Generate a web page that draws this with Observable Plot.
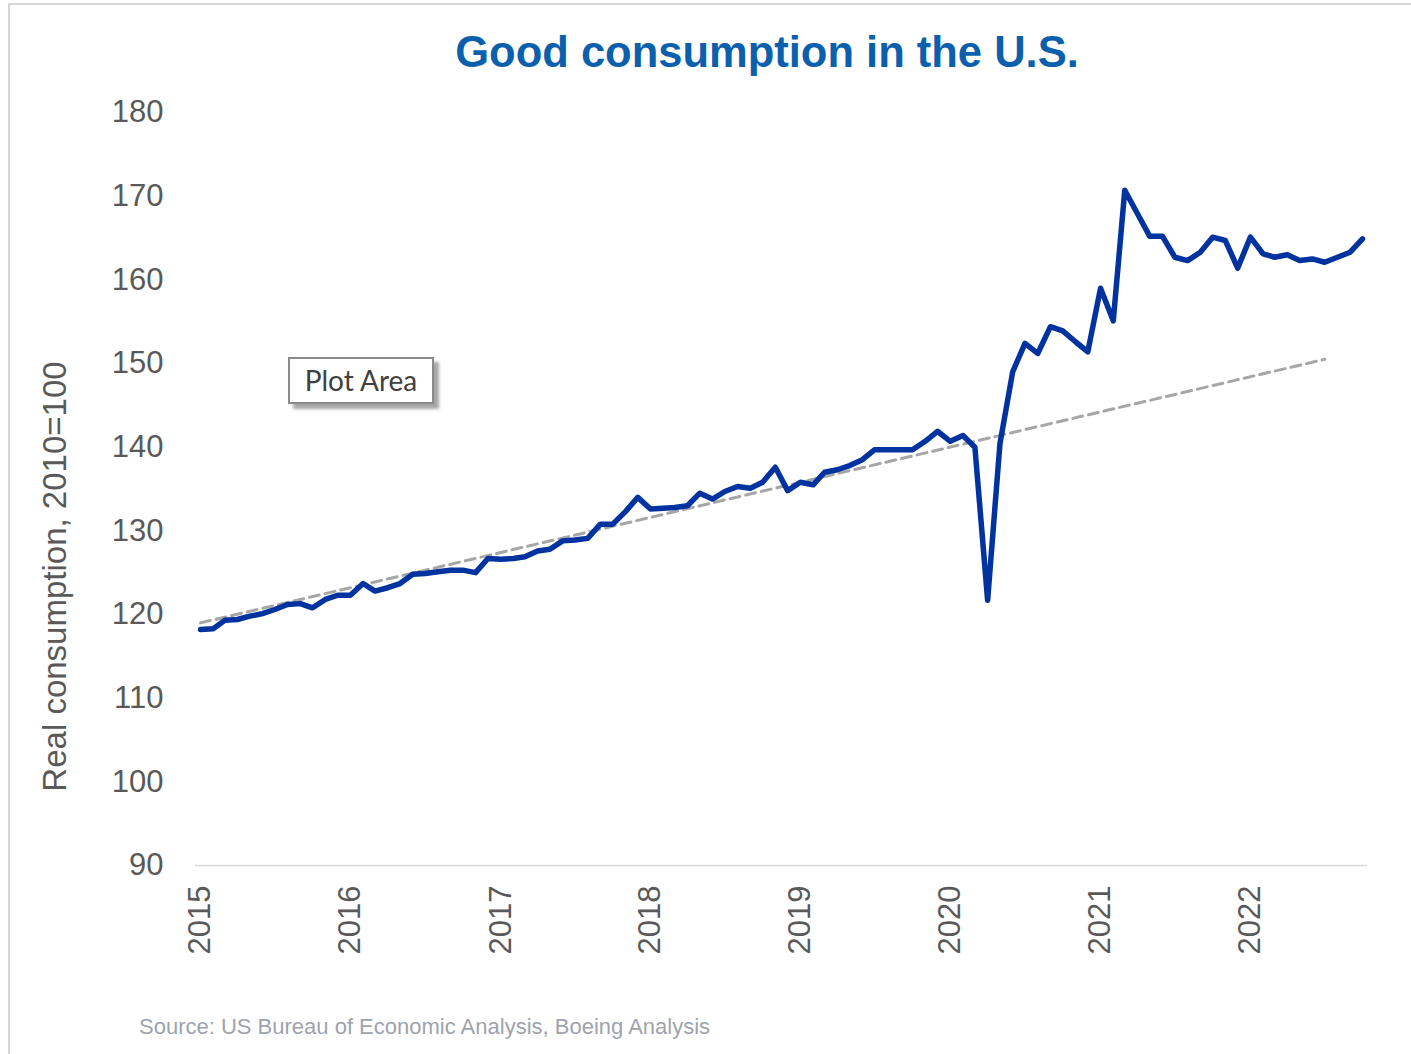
<!DOCTYPE html>
<html>
<head>
<meta charset="utf-8">
<script src="https://cdn.jsdelivr.net/npm/d3@7"></script>
<script src="https://cdn.jsdelivr.net/npm/@observablehq/plot@0.6"></script>
<style>
  body { margin: 0; background: #fff; }
  #wrap { position: relative; width: 1411px; height: 1054px; overflow: hidden; font-family: "Liberation Sans", Arial, sans-serif; background: #fff; }
  #frame { position: absolute; left: 8px; top: 3px; width: 1500px; height: 1200px; border-top: 2px solid #d6d6d6; border-left: 2px solid #d6d6d6; }
  #title { position: absolute; left: 767px; top: 31px; transform: translateX(-50%); white-space: nowrap; font-size: 43.5px; line-height: 43.5px; font-weight: bold; color: #0b60ae; }
  #ylabel { position: absolute; left: -246px; top: 560px; width: 600px; height: 33px; line-height: 33px; text-align: center; font-size: 33px; color: #595959; transform: rotate(-90deg); white-space: nowrap; }
  #chart { position: absolute; left: 0; top: 90px; }
  #plotarea { position: absolute; left: 288px; top: 357px; width: 142px; height: 43px; border: 2px solid #8a8a8a; background: #fff; box-shadow: 5px 5px 3px rgba(0,0,0,0.35); font-family: Lato, "Open Sans", sans-serif; font-size: 28px; line-height: 43px; text-align: center; color: #404040; }
  #source { position: absolute; left: 139px; top: 1016px; font-size: 22px; line-height: 22px; color: #9ea3ab; white-space: nowrap; }
</style>
</head>
<body>
<div id="wrap">
  <div id="frame"></div>
  <div id="title">Good consumption in the U.S.</div>
  <div id="ylabel">Real consumption, 2010=100</div>
  <div id="chart"></div>
  <div id="plotarea">Plot Area</div>
  <div id="source">Source: US Bureau of Economic Analysis, Boeing Analysis</div>
</div>
<script>
// Monthly real goods consumption index (2010=100), Jan 2015 – Oct 2022
const firstMonth = "2015-01";
const consumption = [
  118.2, 118.3, 119.3, 119.4, 119.8, 120.1, 120.6, 121.2, 121.3, 120.8, 121.8, 122.3,
  122.3, 123.7, 122.8, 123.2, 123.7, 124.8, 124.9, 125.1, 125.3, 125.3, 125.0, 126.7,
  126.6, 126.7, 126.9, 127.6, 127.8, 128.8, 128.9, 129.1, 130.8, 130.8, 132.3, 134.0,
  132.6, 132.7, 132.8, 133.0, 134.5, 133.8, 134.7, 135.3, 135.1, 135.8, 137.6, 134.8,
  135.8, 135.5, 137.0, 137.3, 137.8, 138.5, 139.7, 139.7, 139.7, 139.7, 140.7, 141.9,
  140.7, 141.4, 140.0, 121.7, 140.4, 149.0, 152.4, 151.2, 154.4, 153.9, 152.6, 151.4,
  159.0, 155.1, 170.7, 167.9, 165.2, 165.2, 162.7, 162.3, 163.3, 165.1, 164.7, 161.4,
  165.1, 163.1, 162.7, 163.0, 162.3, 162.5, 162.1, 162.7, 163.3, 164.9
];
// Pre-pandemic trend line (two endpoints)
const trendMonths = ["2015-01", "2022-07"];
const trendValues = [119.0, 150.5];
const yTicks = [90, 100, 110, 120, 130, 140, 150, 160, 170, 180];
const yearTicks = ["2015", "2016", "2017", "2018", "2019", "2020", "2021", "2022"];

const parseMonth = d3.utcParse("%Y-%m");
const start = parseMonth(firstMonth);
const series = consumption.map((v, i) => ({date: d3.utcMonth.offset(start, i), value: v}));
const trend = trendMonths.map((m, i) => ({date: parseMonth(m), value: trendValues[i]}));
const xTicks = yearTicks.map(y => d3.utcParse("%Y")(y));

const chart = Plot.plot({
  width: 1411,
  height: 900,
  marginTop: 22,
  marginBottom: 125,
  marginLeft: 195,
  marginRight: 44,
  style: {fontFamily: "Liberation Sans, Arial, sans-serif", color: "#595959", background: "transparent", overflow: "visible"},
  x: {type: "utc", domain: [start, series[series.length - 1].date], range: [200, 1362]},
  y: {domain: [90, 180]},
  marks: [
    Plot.ruleY([90], {stroke: "#d9d9d9", strokeWidth: 1.5}),
    Plot.axisY({ticks: yTicks, tickSize: 0, tickPadding: 32, fontSize: 31, label: null}),
    Plot.axisX({ticks: xTicks, tickFormat: "%Y", tickRotate: -90, tickSize: 0, tickPadding: 20, fontSize: 31, label: null}),
    Plot.line(trend, {x: "date", y: "value", stroke: "#a6a6a6", strokeWidth: 3, strokeDasharray: "10,6"}),
    Plot.line(series, {x: "date", y: "value", stroke: "#0033a0", strokeWidth: 5.5, strokeLinejoin: "round", strokeLinecap: "round"})
  ]
});
document.getElementById("chart").appendChild(chart);
</script>
</body>
</html>
